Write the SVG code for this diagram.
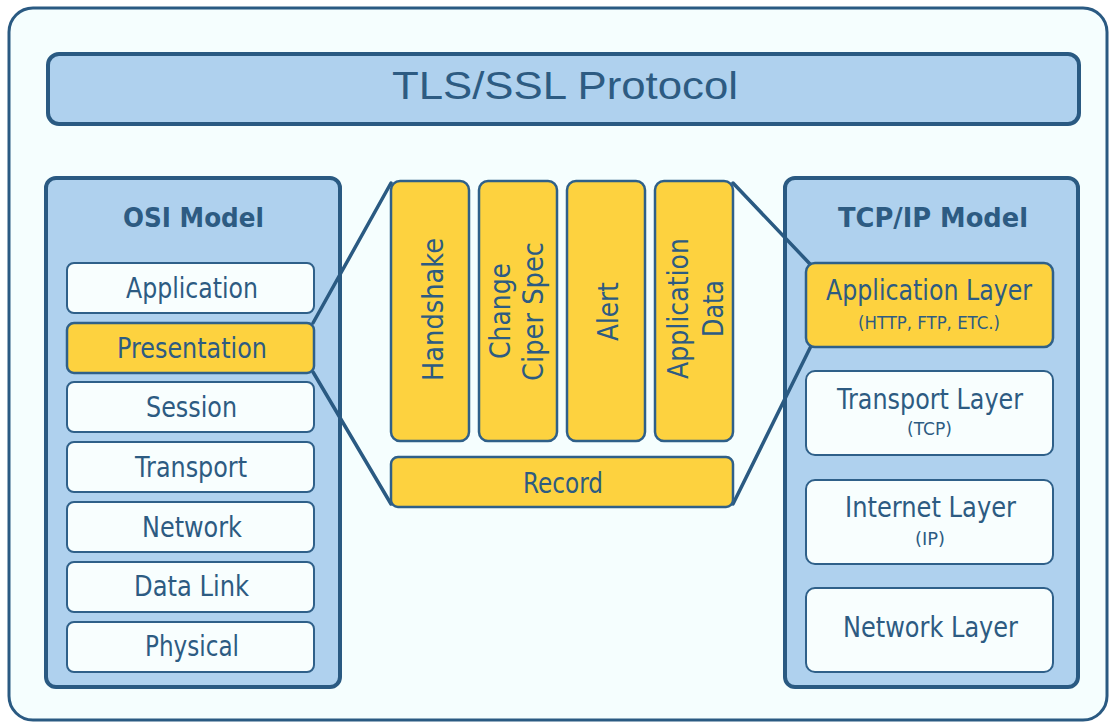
<svg xmlns="http://www.w3.org/2000/svg" width="1110" height="724" viewBox="0 0 1110 724">
<style>
.lbl{font-family:"DejaVu Sans","Verdana",sans-serif;fill:#2d5b82;text-anchor:middle}
.b{font-weight:bold}
.model{fill:#afd1ee;stroke:#2a5a82;stroke-width:4}
.w{fill:#f8fefe;stroke:#2f6089;stroke-width:2}
.y{fill:#fdd23f;stroke:#2f6089;stroke-width:2.5}
.conn{stroke:#2a5a82;stroke-width:3.5;fill:none;stroke-linecap:round}
</style>
<rect x="0" y="0" width="1110" height="724" fill="#ffffff"/>
<g id="frame">
<rect x="9" y="8" width="1098" height="712" rx="24" fill="#f5fefe" stroke="#2a5a82" stroke-width="3"/>
</g>
<g id="title">
<rect x="48" y="54" width="1031" height="70" rx="11" class="model"/>
<text x="565" y="99" font-family="Liberation Sans, Arial, sans-serif" font-size="38" fill="#2d5b82" text-anchor="middle" textLength="346" lengthAdjust="spacingAndGlyphs">TLS/SSL Protocol</text>
</g>
<g id="osi">
<rect x="46" y="178" width="294" height="509" rx="10" class="model"/>
<text class="lbl b" x="193.5" y="227" font-size="27" textLength="141" lengthAdjust="spacingAndGlyphs">OSI Model</text>
</g>
<g id="tcpip">
<rect x="785" y="178" width="293" height="509" rx="10" class="model"/>
<text class="lbl b" x="933" y="227" font-size="27" textLength="190" lengthAdjust="spacingAndGlyphs">TCP/IP Model</text>
</g>
<g id="connectors">
<line class="conn" x1="313" y1="323" x2="391" y2="183"/>
<line class="conn" x1="313" y1="372" x2="391" y2="504"/>
<line class="conn" x1="733" y1="183" x2="810" y2="264"/>
<line class="conn" x1="733" y1="504" x2="811" y2="346"/>
</g>
<g id="osi-application"><rect class="w" x="67" y="263" width="247" height="50" rx="7"/><text class="lbl" x="192" y="298" font-size="28" textLength="132" lengthAdjust="spacingAndGlyphs">Application</text></g>
<g id="osi-presentation"><rect class="y" x="67" y="323" width="247" height="50" rx="7"/><text class="lbl" x="192" y="358" font-size="28" textLength="150" lengthAdjust="spacingAndGlyphs">Presentation</text></g>
<g id="osi-session"><rect class="w" x="67" y="382" width="247" height="50" rx="7"/><text class="lbl" x="191.5" y="417" font-size="28" textLength="91" lengthAdjust="spacingAndGlyphs">Session</text></g>
<g id="osi-transport"><rect class="w" x="67" y="442" width="247" height="50" rx="7"/><text class="lbl" x="191" y="477" font-size="28" textLength="112" lengthAdjust="spacingAndGlyphs">Transport</text></g>
<g id="osi-network"><rect class="w" x="67" y="502" width="247" height="50" rx="7"/><text class="lbl" x="192" y="537" font-size="28" textLength="100" lengthAdjust="spacingAndGlyphs">Network</text></g>
<g id="osi-datalink"><rect class="w" x="67" y="562" width="247" height="50" rx="7"/><text class="lbl" x="191.5" y="596" font-size="28" textLength="115" lengthAdjust="spacingAndGlyphs">Data Link</text></g>
<g id="osi-physical"><rect class="w" x="67" y="622" width="247" height="50" rx="7"/><text class="lbl" x="192" y="656" font-size="28" textLength="94" lengthAdjust="spacingAndGlyphs">Physical</text></g>
<g id="handshake"><rect class="y" x="391" y="181" width="78" height="260" rx="9"/><text class="lbl" transform="translate(443,309.5) rotate(-90)" x="0" y="0" font-size="28" textLength="143" lengthAdjust="spacingAndGlyphs">Handshake</text></g>
<g id="change-ciper-spec"><rect class="y" x="479" y="181" width="78" height="260" rx="9"/><text class="lbl" transform="translate(510,311) rotate(-90)" x="0" y="0" font-size="28" textLength="96" lengthAdjust="spacingAndGlyphs">Change</text><text class="lbl" transform="translate(543,311.5) rotate(-90)" x="0" y="0" font-size="28" textLength="139" lengthAdjust="spacingAndGlyphs">Ciper Spec</text></g>
<g id="alert"><rect class="y" x="567" y="181" width="78" height="260" rx="9"/><text class="lbl" transform="translate(618,311.5) rotate(-90)" x="0" y="0" font-size="28" textLength="59" lengthAdjust="spacingAndGlyphs">Alert</text></g>
<g id="application-data"><rect class="y" x="655" y="181" width="78" height="260" rx="9"/><text class="lbl" transform="translate(688,308.5) rotate(-90)" x="0" y="0" font-size="28" textLength="141" lengthAdjust="spacingAndGlyphs">Application</text><text class="lbl" transform="translate(723,308.5) rotate(-90)" x="0" y="0" font-size="28" textLength="57" lengthAdjust="spacingAndGlyphs">Data</text></g>
<g id="record"><rect class="y" x="391" y="457" width="342" height="50" rx="7"/><text class="lbl" x="563" y="493" font-size="28" textLength="80" lengthAdjust="spacingAndGlyphs">Record</text></g>
<g id="tcp-application"><rect class="y" x="806" y="263" width="247" height="84" rx="9"/><text class="lbl" x="929" y="300" font-size="28" textLength="206" lengthAdjust="spacingAndGlyphs">Application Layer</text><text class="lbl" x="929" y="329" font-size="17" textLength="142" lengthAdjust="spacingAndGlyphs">(HTTP, FTP, ETC.)</text></g>
<g id="tcp-transport"><rect class="w" x="806" y="371" width="247" height="84" rx="9"/><text class="lbl" x="930" y="409" font-size="28" textLength="186" lengthAdjust="spacingAndGlyphs">Transport Layer</text><text class="lbl" x="929.5" y="435" font-size="17" textLength="45" lengthAdjust="spacingAndGlyphs">(TCP)</text></g>
<g id="tcp-internet"><rect class="w" x="806" y="480" width="247" height="84" rx="9"/><text class="lbl" x="930.5" y="517" font-size="28" textLength="171" lengthAdjust="spacingAndGlyphs">Internet Layer</text><text class="lbl" x="930" y="545" font-size="17" textLength="30" lengthAdjust="spacingAndGlyphs">(IP)</text></g>
<g id="tcp-network"><rect class="w" x="806" y="588" width="247" height="84" rx="9"/><text class="lbl" x="930.5" y="637" font-size="28" textLength="175" lengthAdjust="spacingAndGlyphs">Network Layer</text></g>
</svg>
